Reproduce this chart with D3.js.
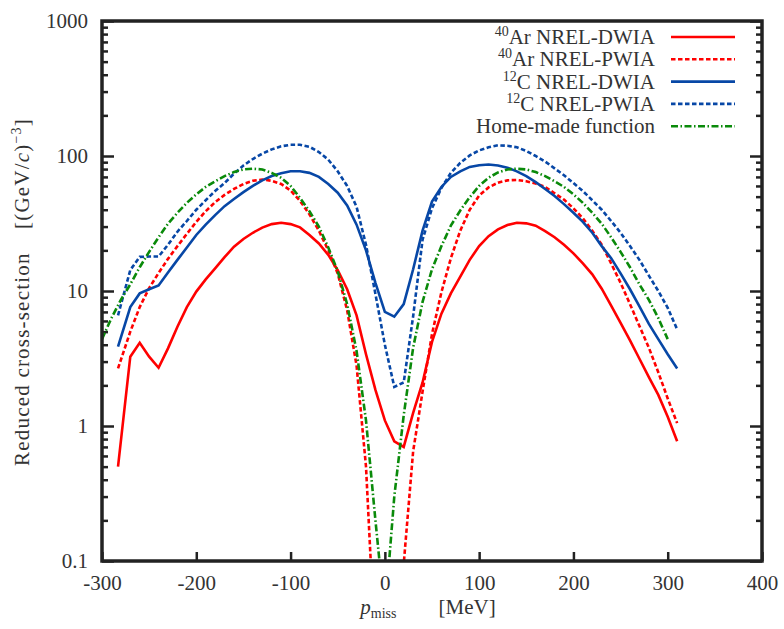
<!DOCTYPE html>
<html>
<head>
<meta charset="utf-8">
<script src="https://cdn.jsdelivr.net/npm/d3@7"></script>
<style>
  body { margin: 0; background: #fff; }
  text { font-family: "Liberation Serif", "DejaVu Serif", serif; fill: #333; }
</style>
</head>
<body>
<div id="chart"></div>
<script>
// p_miss grid of the NREL curves (MeV)
var pMiss = [-283, -270, -260, -250, -240, -230, -220, -210, -200, -190, -180, -170, -160, -150,
  -140, -130, -120, -110, -100, -90, -80, -70, -60, -50, -40, -30, -20, -10, 0, 10, 20, 30,
  40, 50, 60, 70, 80, 90, 100, 110, 120, 130, 140, 150, 160, 170, 180, 190, 200, 210, 220,
  230, 240, 250, 260, 270, 280, 290, 300, 310];

var arDwia = [0.5, 3.26, 4.14, 3.26, 2.7, 3.76, 5.44, 7.6, 9.9, 12.2, 14.7, 17.8, 21.3, 24.3,
  27, 29.5, 31.3, 32, 31.3, 29.6, 26, 22.5, 18.5, 14.3, 10.3, 6.6, 3.4, 1.85, 1.1, 0.77, 0.7, 1.25,
  2.1, 4.2, 6.8, 9.6, 12.8, 17, 21.5, 25.5, 28.6, 30.8, 32, 31.7, 30.5, 27.8, 25, 22, 19, 16, 13.3,
  10.4, 7.8, 5.8, 4.3, 3.15, 2.3, 1.7, 1.17, 0.77];

var arPwia = [2.67, 5.0, 7.6, 10.5, 13.6, 17.3, 21.5, 26.5, 32.5, 39, 45.5, 51.5, 57, 62,
  65.5, 67, 65.5, 62, 55.5, 46.5, 37, 28, 20, 13.5, 7.2, 2.8, 0.5, 0.02, 0.003, 0.01, 0.095, 0.65,
  1.8, 4.8, 9.8, 17.5, 28, 40, 51, 58.5, 63.5, 66, 66.5, 65, 62.5, 59, 53, 47.5, 41, 34.5, 28,
  22, 16, 11.5, 8, 5.5, 3.8, 2.5, 1.6, 1.05];

var cDwia = [3.87, 7.6, 9.6, 10.3, 11, 13.7, 17, 21, 26, 31, 36.5, 42.5, 48, 54,
  60, 66, 71, 74.5, 77, 77, 75, 70, 62, 53.5, 43, 31, 20, 11.5, 7.0, 6.45, 8.0, 14.5,
  28, 46, 59, 70, 77, 83, 85.5, 86.5, 85, 82, 77, 71, 64, 57, 50.5, 44, 38, 32.5, 27,
  21.5, 17.5, 13.5, 10.3, 7.7, 5.7, 4.4, 3.4, 2.67];

var cPwia = [6.6, 14.3, 17.9, 18, 18, 22, 27.5, 33, 40, 47, 55, 63, 74, 85,
  95, 104, 112, 118, 121, 121, 117, 107, 94, 77, 60, 42, 22, 9.5, 4.0, 1.95, 2.1, 6.5,
  24, 41, 58, 75, 89, 101, 110, 116, 120, 119, 116, 109, 100, 91, 81, 72, 63, 55, 47,
  40, 33, 27, 21.5, 17, 13, 10, 7.5, 5.2];

// home-made function, its own grid
var pHome = [-300, -290, -280, -270, -260, -250, -240, -230, -220, -210, -200, -190, -180, -170,
  -160, -150, -140, -130, -120, -110, -100, -90, -80, -70, -60, -50, -40, -30, -20, -10, 0,
  10, 20, 30, 40, 50, 60, 70, 80, 90, 100, 110, 120, 130, 140, 150, 160, 170, 180, 190, 200,
  210, 220, 230, 240, 250, 260, 270, 280, 290, 300];
var homeMade = [4.4, 6.3, 8.6, 11.2, 15, 19.5, 25, 31.5, 38, 45, 52, 59, 65, 71,
  76, 79.5, 80.5, 79.5, 75, 69, 60, 49, 39, 30, 21, 14, 8, 3.6, 1.1, 0.2, 0.04,
  0.3, 1.2, 3.8, 8.3, 14.5, 21.5, 30.5, 39.5, 49.5, 60, 69, 75.5, 79.5, 80.5, 79.5, 76, 71, 65,
  59, 52, 45, 38, 31.5, 25, 19.5, 15, 11.2, 8.6, 6.3, 4.4];

var xTicks = [-300, -200, -100, 0, 100, 200, 300, 400];
var yTicks = [0.1, 1, 10, 100, 1000];

var series = [
  { sup: "40", name: "Ar NREL-DWIA", xs: pMiss, ys: arDwia, color: "#ff0000", dash: null },
  { sup: "40", name: "Ar NREL-PWIA", xs: pMiss, ys: arPwia, color: "#ff0000", dash: "4.5,2.5" },
  { sup: "12", name: "C NREL-DWIA", xs: pMiss, ys: cDwia, color: "#0747a6", dash: null },
  { sup: "12", name: "C NREL-PWIA", xs: pMiss, ys: cPwia, color: "#0747a6", dash: "4.5,2.5" },
  { sup: "", name: "Home-made function", xs: pHome, ys: homeMade, color: "#0a8a0a", dash: "7,2.5,1.5,2.5" }
];

// set the dimensions and margins of the graph
var margin = { top: 21, right: 22, bottom: 68, left: 102 },
    width = 784 - margin.left - margin.right,
    height = 629 - margin.top - margin.bottom;

var svg = d3.select("#chart")
    .append("svg")
    .attr("width", 784)
    .attr("height", 629)
    .append("g")
    .attr("transform", "translate(" + margin.left + "," + margin.top + ")");

var x = d3.scaleLinear().domain([-300, 400]).range([0, width]);
var y = d3.scaleLog().domain([0.1, 1000]).range([height, 0]);

svg.append("clipPath").attr("id", "clip")
    .append("rect").attr("width", width).attr("height", height);

// minor log ticks
var minor = [];
[0.1, 1, 10, 100].forEach(function (d) {
    for (var k = 2; k < 10; k++) minor.push(d * k);
});

function styleAxis(g) {
    g.select(".domain").remove();
    g.selectAll("line").attr("stroke", "#222").attr("stroke-width", 2.5);
    g.selectAll("text").style("font-size", "21px").attr("fill", "#333")
        .style("font-family", "'Liberation Serif', serif");
}

svg.append("g").call(d3.axisLeft(y).tickValues(yTicks).tickFormat(function (d) { return d; })
    .tickSize(-12).tickPadding(14)).call(styleAxis);
svg.append("g").call(d3.axisLeft(y).tickValues(minor).tickFormat("").tickSize(-6)).call(styleAxis);
svg.append("g").attr("transform", "translate(" + width + ",0)")
    .call(d3.axisRight(y).tickValues(yTicks).tickFormat("").tickSize(-12)).call(styleAxis);
svg.append("g").attr("transform", "translate(" + width + ",0)")
    .call(d3.axisRight(y).tickValues(minor).tickFormat("").tickSize(-6)).call(styleAxis);
svg.append("g").attr("transform", "translate(0," + height + ")")
    .call(d3.axisBottom(x).tickValues(xTicks).tickFormat(function (d) { return d; })
    .tickSize(-9).tickPadding(14)).call(styleAxis);

// curves
var line = d3.line()
    .x(function (d) { return x(d[0]); })
    .y(function (d) { return y(d[1]); });

var curves = svg.append("g").attr("clip-path", "url(#clip)");
series.forEach(function (s) {
    curves.append("path")
        .datum(s.xs.map(function (v, i) { return [v, s.ys[i]]; }))
        .attr("fill", "none")
        .attr("stroke", s.color)
        .attr("stroke-width", 2.6)
        .attr("stroke-dasharray", s.dash)
        .attr("d", line);
});

// frame
svg.append("rect")
    .attr("width", width).attr("height", height)
    .attr("fill", "none").attr("stroke", "#222").attr("stroke-width", 3.5);

// legend
var legend = svg.append("g");
series.forEach(function (s, i) {
    var ly = 16 + i * 22.3;
    var t = legend.append("text")
        .attr("x", 553).attr("y", ly + 7)
        .attr("text-anchor", "end")
        .style("font-size", "21px");
    if (s.sup) {
        t.append("tspan").attr("dy", -8).style("font-size", "14px").text(s.sup);
        t.append("tspan").attr("dy", 8).text(s.name);
    } else {
        t.text(s.name);
    }
    legend.append("line")
        .attr("x1", 569).attr("x2", 633).attr("y1", ly).attr("y2", ly)
        .attr("stroke", s.color).attr("stroke-width", 2.6)
        .attr("stroke-dasharray", s.dash);
});

// axis titles
var yl = svg.append("text")
    .attr("transform", "rotate(-90)")
    .attr("x", -(292 - margin.top))
    .attr("y", 29 - margin.left)
    .style("text-anchor", "middle")
    .style("font-size", "21px")
    .style("letter-spacing", "1.2px");
yl.append("tspan").text("Reduced cross-section\u2002\u2002[(GeV/");
yl.append("tspan").style("font-style", "italic").text("c");
yl.append("tspan").text(")");
yl.append("tspan").attr("dy", -8).style("font-size", "14px").text("\u22123");
yl.append("tspan").attr("dy", 8).text("]");

var xl = svg.append("text")
    .attr("x", 428 - margin.left)
    .attr("y", 614 - margin.top)
    .style("text-anchor", "middle")
    .style("font-size", "21px");
xl.append("tspan").style("font-style", "italic").text("p");
xl.append("tspan").attr("dy", 4).style("font-size", "14px").text("miss");
xl.append("tspan").attr("dy", -4).text("\u2003\u2003[MeV]");
</script>
</body>
</html>
